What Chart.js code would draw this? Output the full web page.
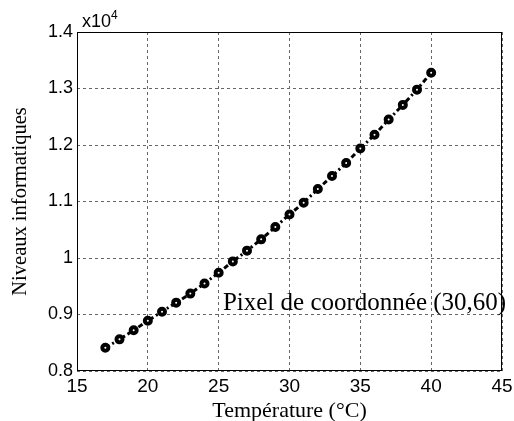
<!DOCTYPE html>
<html><head><meta charset="utf-8">
<script src="https://cdn.jsdelivr.net/npm/chart.js@4/dist/chart.umd.min.js"></script>
<style>html,body{margin:0;padding:0;background:#fff}#wrap{width:514px;height:421px}</style>
</head><body><div id="wrap"><canvas id="c" width="514" height="421"></canvas></div>
<script>
const temperatures = [17,18,19,20,21,22,23,24,25,26,27,28,29,30,31,32,33,34,35,36,37,38,39,40];
const levels = [8410,8560,8720,8890,9050,9210,9370,9550,9740,9940,10130,10330,10550,10770,10980,11220,11450,11680,11940,12180,12450,12710,12980,13280];
const xTicks = [15,20,25,30,35,40,45];
const yTicks = [8000,9000,10000,11000,12000,13000,14000];
const annotationText = 'Pixel de coordonnée (30,60)';
const annotationPos = [25.3, 9200];

const extras = {
  id: 'extras',
  afterDraw(chart) {
    const {ctx, chartArea: a, scales} = chart;
    ctx.save();
    ctx.strokeStyle = '#000'; ctx.lineWidth = 1; ctx.setLineDash([]);
    ctx.strokeRect(a.left + 0.5, a.top + 0.5, a.right - a.left - 1, a.bottom - a.top - 1);
    ctx.fillStyle = '#000';
    ctx.font = '25px "Liberation Serif"';
    ctx.textBaseline = 'middle'; ctx.textAlign = 'left';
    ctx.fillText(annotationText, scales.x.getPixelForValue(annotationPos[0]), scales.y.getPixelForValue(annotationPos[1]));
    ctx.font = '18px "Liberation Sans"';
    ctx.textBaseline = 'alphabetic';
    ctx.fillText('x10', a.left + 5, a.top - 5);
    const w = ctx.measureText('x10').width;
    ctx.font = '12px "Liberation Sans"';
    ctx.fillText('4', a.left + 5 + w, a.top - 13);
    ctx.restore();
  }
};

new Chart(document.getElementById('c'), {
  type: 'line',
  data: { datasets: [{
    data: temperatures.map((t, i) => ({x: t, y: levels[i]})),
    borderColor: '#000', borderWidth: 3, borderDash: [5,3,2,3],
    pointStyle: 'circle', pointRadius: 3, pointBorderWidth: 4,
    pointBackgroundColor: '#fff', pointBorderColor: '#000', fill: false, tension: 0
  }]},
  options: {
    responsive: false, animation: false, devicePixelRatio: 1,
    layout: { padding: { left: 0, right: 0, top: 32, bottom: 0 } },
    plugins: { legend: { display: false }, tooltip: { enabled: false } },
    scales: {
      x: { type: 'linear', min: 15, max: 45,
        afterBuildTicks: s => { s.ticks = xTicks.map(v => ({value: v})); },
        afterFit: s => { s.height = 50; s.paddingRight = 12; },
        grid: { color: '#666', lineWidth: 1, drawTicks: false },
        border: { display: false, dash: [3,3] },
        ticks: { color: '#000', font: { family: '"Liberation Sans"', size: 19 }, padding: 4 },
        title: { display: true, text: 'Température (°C)', color: '#000', font: { family: '"Liberation Serif"', size: 22 }, padding: { top: 0, bottom: -3 } }
      },
      y: { min: 8000, max: 14000,
        afterBuildTicks: s => { s.ticks = yTicks.map(v => ({value: v})); },
        afterFit: s => { s.width = 77; },
        grid: { color: '#666', lineWidth: 1, drawTicks: false },
        border: { display: false, dash: [3,3] },
        ticks: { color: '#000', font: { family: '"Liberation Sans"', size: 18 }, padding: 4,
          callback: v => String(Math.round(v / 1000) / 10) },
        title: { display: true, text: 'Niveaux informatiques', color: '#000', font: { family: '"Liberation Serif"', size: 20.5 }, padding: { top: 8, bottom: 4 } }
      }
    }
  },
  plugins: [extras]
});
</script></body></html>
